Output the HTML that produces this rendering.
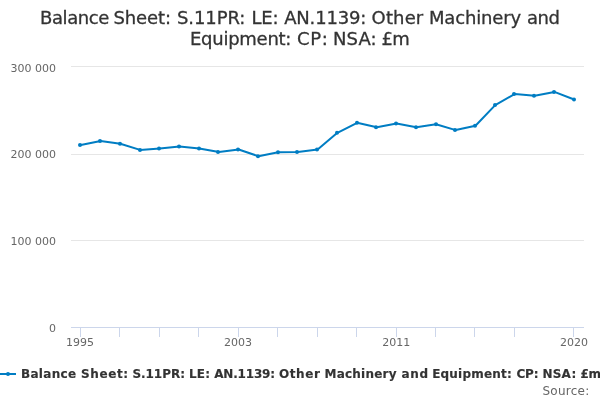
<!DOCTYPE html>
<html><head><meta charset="utf-8"><title>Balance Sheet chart</title>
<style>
html,body{margin:0;padding:0;background:#fff;}
body{width:600px;height:400px;overflow:hidden;}
svg{display:block;font-family:"DejaVu Sans","Liberation Sans",sans-serif;}
.ax{font-size:11px;fill:#666666;}
.title{font-size:18px;fill:#333333;stroke:#333333;stroke-width:0.3px;}
.leg{font-size:12px;font-weight:bold;fill:#333333;stroke:#333333;stroke-width:0.15px;}
.src{font-size:12px;fill:#666666;}
</style></head><body>
<svg width="600" height="400" viewBox="0 0 600 400">
<rect x="0" y="0" width="600" height="400" fill="#ffffff"/>
<g>
<path d="M 71 66.5 L 584 66.5" stroke="#E6E6E6" stroke-width="1" fill="none"/>
<path d="M 71 154.5 L 584 154.5" stroke="#E6E6E6" stroke-width="1" fill="none"/>
<path d="M 71 240.5 L 584 240.5" stroke="#E6E6E6" stroke-width="1" fill="none"/>
</g>
<path d="M 71 327.5 L 584 327.5" stroke="#CCD6EB" stroke-width="1" fill="none"/>
<g>
<path d="M 80.5 327 L 80.5 337" stroke="#CCD6EB" stroke-width="1" fill="none"/>
<path d="M 119.5 327 L 119.5 337" stroke="#CCD6EB" stroke-width="1" fill="none"/>
<path d="M 159.5 327 L 159.5 337" stroke="#CCD6EB" stroke-width="1" fill="none"/>
<path d="M 198.5 327 L 198.5 337" stroke="#CCD6EB" stroke-width="1" fill="none"/>
<path d="M 238.5 327 L 238.5 337" stroke="#CCD6EB" stroke-width="1" fill="none"/>
<path d="M 277.5 327 L 277.5 337" stroke="#CCD6EB" stroke-width="1" fill="none"/>
<path d="M 317.5 327 L 317.5 337" stroke="#CCD6EB" stroke-width="1" fill="none"/>
<path d="M 356.5 327 L 356.5 337" stroke="#CCD6EB" stroke-width="1" fill="none"/>
<path d="M 396.5 327 L 396.5 337" stroke="#CCD6EB" stroke-width="1" fill="none"/>
<path d="M 435.5 327 L 435.5 337" stroke="#CCD6EB" stroke-width="1" fill="none"/>
<path d="M 474.5 327 L 474.5 337" stroke="#CCD6EB" stroke-width="1" fill="none"/>
<path d="M 514.5 327 L 514.5 337" stroke="#CCD6EB" stroke-width="1" fill="none"/>
<path d="M 573.5 327 L 573.5 337" stroke="#CCD6EB" stroke-width="1" fill="none"/>
</g>
<path d="M 80.87 145.00 L 100.60 141.00 L 120.33 143.80 L 140.06 149.90 L 159.79 148.50 L 179.52 146.60 L 199.25 148.60 L 218.98 152.10 L 238.71 149.50 L 258.44 156.20 L 278.17 152.20 L 297.90 152.00 L 317.63 149.50 L 337.37 132.80 L 357.10 122.80 L 376.83 127.20 L 396.56 123.40 L 416.29 127.20 L 436.02 124.30 L 455.75 130.10 L 475.48 125.70 L 495.21 105.10 L 514.94 93.90 L 534.67 95.70 L 554.40 91.90 L 574.13 99.50" stroke="#007dc3" stroke-width="2" fill="none" stroke-linejoin="round" stroke-linecap="round"/>
<g>
<circle cx="80" cy="145.00" r="2" fill="#007dc3"/>
<circle cx="100" cy="141.00" r="2" fill="#007dc3"/>
<circle cx="120" cy="143.80" r="2" fill="#007dc3"/>
<circle cx="140" cy="149.90" r="2" fill="#007dc3"/>
<circle cx="159" cy="148.50" r="2" fill="#007dc3"/>
<circle cx="179" cy="146.60" r="2" fill="#007dc3"/>
<circle cx="199" cy="148.60" r="2" fill="#007dc3"/>
<circle cx="218" cy="152.10" r="2" fill="#007dc3"/>
<circle cx="238" cy="149.50" r="2" fill="#007dc3"/>
<circle cx="258" cy="156.20" r="2" fill="#007dc3"/>
<circle cx="278" cy="152.20" r="2" fill="#007dc3"/>
<circle cx="297" cy="152.00" r="2" fill="#007dc3"/>
<circle cx="317" cy="149.50" r="2" fill="#007dc3"/>
<circle cx="337" cy="132.80" r="2" fill="#007dc3"/>
<circle cx="357" cy="122.80" r="2" fill="#007dc3"/>
<circle cx="376" cy="127.20" r="2" fill="#007dc3"/>
<circle cx="396" cy="123.40" r="2" fill="#007dc3"/>
<circle cx="416" cy="127.20" r="2" fill="#007dc3"/>
<circle cx="436" cy="124.30" r="2" fill="#007dc3"/>
<circle cx="455" cy="130.10" r="2" fill="#007dc3"/>
<circle cx="475" cy="125.70" r="2" fill="#007dc3"/>
<circle cx="495" cy="105.10" r="2" fill="#007dc3"/>
<circle cx="514" cy="93.90" r="2" fill="#007dc3"/>
<circle cx="534" cy="95.70" r="2" fill="#007dc3"/>
<circle cx="554" cy="91.90" r="2" fill="#007dc3"/>
<circle cx="574" cy="99.50" r="2" fill="#007dc3"/>
</g>
<g>
<path d="M 0 374 L 16 374" stroke="#007dc3" stroke-width="2" fill="none"/>
<circle cx="8" cy="374" r="2" fill="#007dc3"/>
</g>
<text id="t1" class="title" y="24" xml:space="preserve"><tspan x="40.00" style="letter-spacing:-0.390px">Balance </tspan><tspan x="113.40" style="letter-spacing:-0.108px">Sheet: </tspan><tspan x="177.00" style="letter-spacing:-0.090px">S.11PR: </tspan><tspan x="251.40" style="letter-spacing:-0.090px">LE: </tspan><tspan x="284.20" style="letter-spacing:-0.180px">AN.1139: </tspan><tspan x="371.60" style="letter-spacing:0.135px">Other </tspan><tspan x="429.00" style="letter-spacing:-0.158px">Machinery </tspan><tspan x="527.00" style="letter-spacing:-0.450px">and</tspan></text>
<text id="t2" class="title" y="45" xml:space="preserve"><tspan x="190.00" style="letter-spacing:-0.260px">Equipment: </tspan><tspan x="297.00" style="letter-spacing:0.630px">CP: </tspan><tspan x="333.00" style="letter-spacing:0.120px">NSA: </tspan><tspan x="381.40" style="letter-spacing:-0.500px">£m</tspan></text>
<text id="lg" class="leg" y="378" xml:space="preserve"><tspan x="21.00" style="letter-spacing:0.300px">Balance </tspan><tspan x="81.00" style="letter-spacing:0.612px">Sheet: </tspan><tspan x="132.40" style="letter-spacing:-0.030px">S.11PR: </tspan><tspan x="189.00" style="letter-spacing:0.180px">LE: </tspan><tspan x="214.20" style="letter-spacing:-0.180px">AN.1139: </tspan><tspan x="279.00" style="letter-spacing:0.585px">Other </tspan><tspan x="324.50" style="letter-spacing:0.219px">Machinery </tspan><tspan x="401.40" style="letter-spacing:0.750px">and </tspan><tspan x="432.20" style="letter-spacing:0.200px">Equipment: </tspan><tspan x="516.40" style="letter-spacing:-0.090px">CP: </tspan><tspan x="542.40" style="letter-spacing:0.270px">NSA: </tspan><tspan x="580.40" style="letter-spacing:-0.360px">£m</tspan></text>
<text id="src" class="src" y="395" xml:space="preserve"><tspan x="542.40" style="letter-spacing:0.265px">Source:</tspan></text>
<g>
<text x="80.00" y="346" text-anchor="middle" class="ax">1995</text>
<text x="238.08" y="346" text-anchor="middle" class="ax">2003</text>
<text x="396.16" y="346" text-anchor="middle" class="ax">2011</text>
<text x="574.00" y="346" text-anchor="middle" class="ax">2020</text>
</g>
<g>
<text x="56" y="72" text-anchor="end" class="ax">300 000</text>
<text x="56" y="158" text-anchor="end" class="ax">200 000</text>
<text x="56" y="245" text-anchor="end" class="ax">100 000</text>
<text x="56" y="332" text-anchor="end" class="ax">0</text>
</g>
</svg>
</body></html>
